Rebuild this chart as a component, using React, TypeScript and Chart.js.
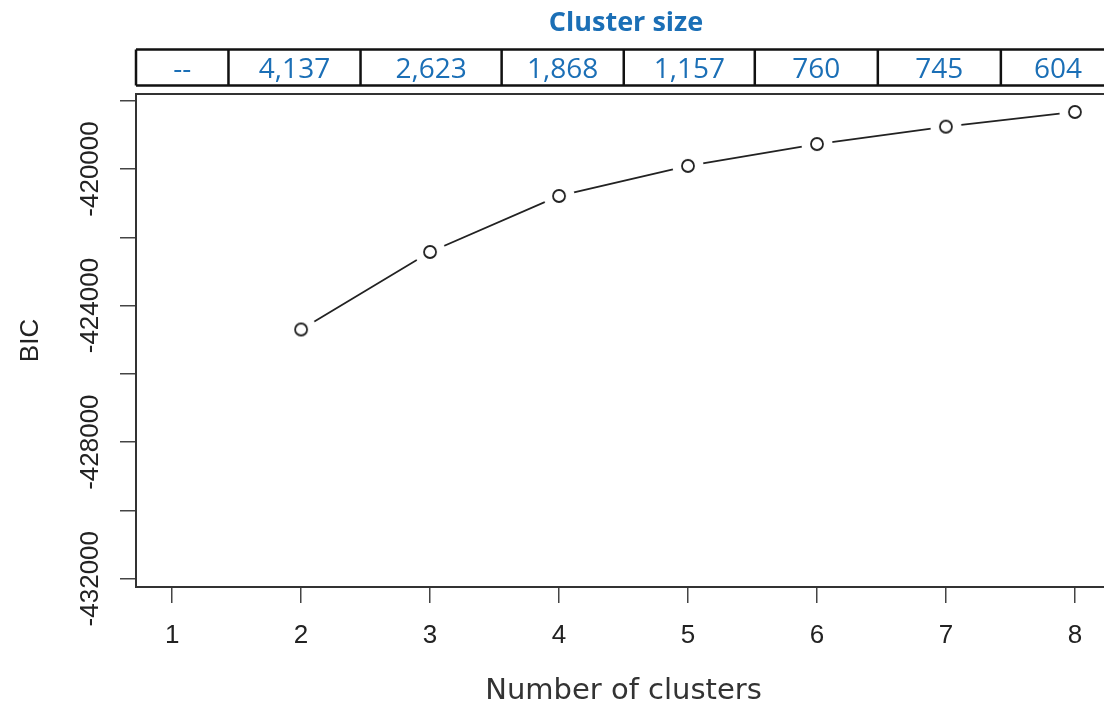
import React, { useEffect, useRef } from "react";
import { Chart, registerables } from "chart.js";

Chart.register(...registerables);

// ---- data ----
const clusterCounts = [2, 3, 4, 5, 6, 7, 8];
const bicValues = [-424700, -422430, -420790, -419910, -419270, -418760, -418330];
const xTickValues = [1, 2, 3, 4, 5, 6, 7, 8];
const yTickValues = [-432000, -430000, -428000, -426000, -424000, -422000, -420000, -418000];
const yLabeledTicks = [-420000, -424000, -428000, -432000];
const clusterSizeLabels = ["--", "4,137", "2,623", "1,868", "1,157", "760", "745", "604"];
const tableTitle = "Cluster size";
const xTitle = "Number of clusters";
const yTitle = "BIC";

// ---- layout constants ----
const X_MIN = 0.72;
const X_MAX = 8.28;
const Y_MIN = -432243;
const Y_MAX = -417804;
const TABLE_DIVIDERS = [1.437, 2.461, 3.555, 4.502, 5.518, 6.472, 7.426];
const BLUE = "#1b6fb6";

function makeMarker(): HTMLCanvasElement {
  const size = 34;
  const c = document.createElement("canvas");
  c.width = size;
  c.height = size;
  const g = c.getContext("2d")!;
  g.fillStyle = "#ffffff";
  g.beginPath();
  g.arc(size / 2, size / 2, 15.5, 0, Math.PI * 2);
  g.fill();
  g.strokeStyle = "#222";
  g.lineWidth = 1.8;
  g.beginPath();
  g.arc(size / 2, size / 2, 6, 0, Math.PI * 2);
  g.stroke();
  return c;
}

const overlayPlugin = {
  id: "overlay",
  afterDraw(chart: any) {
    const { ctx, chartArea, scales } = chart;
    const xs = scales.x;
    const ys = scales.y;
    ctx.save();
    // plot box
    ctx.strokeStyle = "#333";
    ctx.lineWidth = 2;
    ctx.strokeRect(
      chartArea.left,
      chartArea.top,
      chartArea.right - chartArea.left,
      chartArea.bottom - chartArea.top
    );

    // y tick labels (rotated, R style)
    ctx.fillStyle = "#222";
    ctx.font = '26px "Liberation Sans", Arial, sans-serif';
    ctx.textAlign = "center";
    ctx.textBaseline = "alphabetic";
    for (const v of yLabeledTicks) {
      const py = ys.getPixelForValue(v);
      ctx.save();
      ctx.translate(98, py);
      ctx.rotate(-Math.PI / 2);
      ctx.fillText(String(v), 0, 0);
      ctx.restore();
    }

    // table
    const tTop = 49.5;
    const tBottom = 85.5;
    const tLeft = chartArea.left;
    const tRight = chartArea.right + 4;
    ctx.strokeStyle = "#111";
    ctx.lineWidth = 2.5;
    ctx.beginPath();
    ctx.moveTo(tLeft, tTop);
    ctx.lineTo(tRight, tTop);
    ctx.moveTo(tLeft, tBottom);
    ctx.lineTo(tRight, tBottom);
    ctx.moveTo(tLeft, tTop);
    ctx.lineTo(tLeft, tBottom);
    const edges = [tLeft];
    for (const d of TABLE_DIVIDERS) {
      const px = xs.getPixelForValue(d);
      edges.push(px);
      ctx.moveTo(px, tTop);
      ctx.lineTo(px, tBottom);
    }
    edges.push(tRight);
    ctx.stroke();

    ctx.fillStyle = BLUE;
    ctx.font = '500 28px "Open Sans", "Noto Sans", sans-serif';
    ctx.textAlign = "center";
    ctx.textBaseline = "alphabetic";
    clusterSizeLabels.forEach((lab, i) => {
      const cx = (edges[i] + edges[i + 1]) / 2;
      ctx.fillText(lab, cx, 77.5);
    });

    ctx.font = 'bold 27px "Open Sans", "Noto Sans", sans-serif';
    ctx.fillText(tableTitle, 626, 31);
    ctx.restore();
  },
};

export default function App() {
  const canvasRef = useRef<HTMLCanvasElement>(null);

  useEffect(() => {
    const canvas = canvasRef.current;
    if (!canvas) return;
    const marker = makeMarker();
    const points = clusterCounts.map((c, i) => ({ x: c, y: bicValues[i] }));
    const chart = new Chart(canvas, {
      type: "line",
      data: {
        datasets: [
          {
            label: "BIC",
            data: points,
            borderColor: "#222",
            borderWidth: 1.8,
            pointStyle: marker as any,
            pointRadius: 17,
            tension: 0,
            fill: false,
          },
        ],
      },
      options: {
        responsive: false,
        animation: false,
        devicePixelRatio: 1,
        layout: { autoPadding: false, padding: { top: 94, right: 9, left: 0, bottom: 0 } },
        plugins: {
          legend: { display: false },
          tooltip: { enabled: false },
          title: { display: false },
        },
        scales: {
          x: {
            type: "linear",
            min: X_MIN,
            max: X_MAX,
            afterBuildTicks: (scale: any) => {
              scale.ticks = xTickValues.map((v) => ({ value: v }));
            },
            afterFit: (scale: any) => {
              scale.height = 129;
              scale.paddingLeft = 0;
              scale.paddingRight = 0;
            },
            ticks: {
              color: "#222",
              font: { family: '"Liberation Sans", Arial, sans-serif', size: 26 },
              padding: 17,
              maxRotation: 0,
              minRotation: 0,
              callback: (v: any) => String(v),
            },
            grid: {
              drawOnChartArea: false,
              tickLength: 16,
              color: "#444",
              lineWidth: 1.5,
            },
            border: { display: false },
            title: {
              display: true,
              text: xTitle,
              color: "#333",
              font: { family: '"DejaVu Sans", sans-serif', size: 29 },
              padding: { top: 0, bottom: 7 },
            },
          },
          y: {
            type: "linear",
            min: Y_MIN,
            max: Y_MAX,
            afterBuildTicks: (scale: any) => {
              scale.ticks = yTickValues.map((v) => ({ value: v }));
            },
            afterFit: (scale: any) => {
              scale.width = 136;
              scale.paddingTop = 0;
              scale.paddingBottom = 0;
            },
            ticks: { display: false },
            grid: {
              drawOnChartArea: false,
              tickLength: 16,
              color: "#444",
              lineWidth: 1.5,
            },
            border: { display: false },
            title: {
              display: true,
              text: yTitle,
              color: "#222",
              font: { family: '"Liberation Sans", Arial, sans-serif', size: 26 },
              padding: { top: 15, bottom: 0 },
            },
          },
        },
      },
      plugins: [overlayPlugin],
    });
    return () => chart.destroy();
  }, []);

  return (
    <div
      style={{
        position: "fixed",
        left: 0,
        top: 0,
        width: 1104,
        height: 716,
        overflow: "hidden",
        background: "#ffffff",
      }}
    >
      <canvas ref={canvasRef} width={1120} height={716} style={{ display: "block" }} />
    </div>
  );
}
